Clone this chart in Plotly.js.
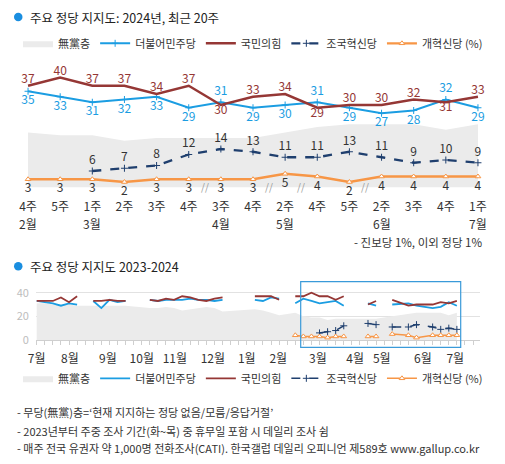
<!DOCTYPE html>
<html><head><meta charset="utf-8">
<script src="https://cdn.plot.ly/plotly-3.0.1.min.js"></script>
<style>html,body{margin:0;padding:0;background:#fff}#chart{width:505px;height:464px}</style>
</head><body><div id="chart"></div>
<script>
// ---------- DATA ----------
// week index: 0 = 2023년 7월 1주 ... 52 = 2024년 7월 1주; rows with all-null values break the lines
const weekIndex = [0,1,2,3,4,5,6,7,8,9,10,11,12,14,15,16,17,18,19,20,21,22,23,24,27,28,29,30,31,32,33,34,35,36,37,38,39,41,42,43,44,46,47,49,50,51,52];
const nonPartisan = [31,31,30,30,30,29,null,29,29,29,29,29,null,27,27,28,27,25,26,27,28,27,24,null,26,25,23,21,null,23,20,19,19,17,18,18,null,18,18,null,20,22,23,23,23,21,23];
const democratic  = [33,32,31,29,31,30,null,33,27,34,32,33,null,34,33,34,34,34,35,34,34,33,34,null,34,33,36,35,null,31,35,33,31,32,33,29,null,31,29,null,30,31,29,27,28,32,29];
const peoplePower = [33,33,33,36,32,37,null,33,33,34,33,33,null,34,33,35,34,37,36,34,33,35,36,null,37,37,37,34,null,37,37,40,37,37,34,37,null,30,33,null,34,29,30,30,32,31,33];
const rebuilding  = [null,null,null,null,null,null,null,null,null,null,null,null,null,null,null,null,null,null,null,null,null,null,null,null,null,null,null,null,null,null,null,null,6,7,8,12,null,14,13,null,11,11,13,11,9,10,9];
const reform      = [null,null,null,null,null,null,null,null,null,null,null,null,null,null,null,null,null,null,null,null,null,null,null,null,null,null,null,null,null,4,3,3,3,2,3,3,null,3,3,null,5,4,2,4,4,4,4];

const recentStartWeek = 33; // 2024년 2월 4주
const recentWeekLabels  = ['4주','5주','1주','2주','3주','4주','3주','4주','2주','4주','5주','2주','3주','4주','1주'];
const recentMonthLabels = ['2월','','3월','','','','4월','','5월','','','6월','','','7월'];

const monthTickPos  = [0,4.1,8.8,13,17.1,21.8,26,29.9,34.8,39.4,42.7,47.8,51.8];
const monthTickText = ['7월','8월','9월','10월','11월','12월','1월','2월','3월','4월','5월','6월','7월'];

const seriesNames = ['無黨층','더불어민주당','국민의힘','조국혁신당','개혁신당 (%)'];

// ---------- STYLE ----------
const C = {gray:'#ebebeb', blue:'#1b9de2', red:'#953735', navy:'#1f3f6e', orange:'#f79646', text:'#333333'};
const FONT = "'Noto Sans CJK KR','Noto Sans',sans-serif";

// ---------- derive recent 15 survey points ----------
const rIdx = [];
weekIndex.forEach((w,i)=>{ if (w >= recentStartWeek && peoplePower[i] !== null) rIdx.push(i); });
const pick = arr => rIdx.map(i => arr[i]);
const rWeeks = pick(weekIndex), rNon = pick(nonPartisan), rDem = pick(democratic),
      rPpp = pick(peoplePower), rReb = pick(rebuilding), rRef = pick(reform);
const rX = rWeeks.map((_,i)=>i);

const demPos = rDem.map((v,i)=> v > rPpp[i] ? 'top center' : 'bottom center');
const pppPos = rPpp.map((v,i)=> v < rDem[i] ? 'bottom center' : 'top center');

const traces = [
  {x:rX, y:rNon, name:seriesNames[0], mode:'lines', fill:'tozeroy', fillcolor:C.gray, line:{width:0,color:C.gray}, legend:'legend'},
  {x:rX, y:rDem, name:seriesNames[1], mode:'lines+markers+text', line:{color:C.blue,width:2},
   marker:{symbol:'cross-thin-open',size:5,line:{color:C.blue,width:1},color:C.blue},
   text:rDem.map(String), textposition:demPos, textfont:{size:12,color:C.blue,family:FONT}, cliponaxis:false, legend:'legend'},
  {x:rX, y:rPpp, name:seriesNames[2], mode:'lines+text', line:{color:C.red,width:2.5},
   text:rPpp.map(String), textposition:pppPos, textfont:{size:12,color:C.red,family:FONT}, cliponaxis:false, legend:'legend'},
  {x:rX, y:rReb, name:seriesNames[3], mode:'lines+markers+text', line:{color:C.navy,width:2.3,dash:'dash'},
   marker:{symbol:'cross-thin-open',size:5,line:{color:C.navy,width:1},color:C.navy},
   text:rReb.map(v=> v===null?'':String(v)), textposition:'top center', textfont:{size:12,color:C.text,family:FONT}, cliponaxis:false, legend:'legend'},
  {x:rX, y:rRef, name:seriesNames[4], mode:'lines+markers+text', line:{color:C.orange,width:2.3},
   marker:{symbol:'triangle-up',size:5,color:'#ffffff',line:{color:C.orange,width:1}},
   text:rRef.map(String), textposition:'bottom center', textfont:{size:12,color:C.text,family:FONT}, cliponaxis:false, legend:'legend'},

  {x:weekIndex, y:nonPartisan, name:seriesNames[0], mode:'lines', fill:'tozeroy', fillcolor:C.gray, line:{width:0,color:C.gray}, xaxis:'x2', yaxis:'y2', legend:'legend2'},
  {x:weekIndex, y:democratic, name:seriesNames[1], mode:'lines', line:{color:C.blue,width:1.8}, xaxis:'x2', yaxis:'y2', legend:'legend2'},
  {x:weekIndex, y:peoplePower, name:seriesNames[2], mode:'lines', line:{color:C.red,width:1.8}, xaxis:'x2', yaxis:'y2', legend:'legend2'},
  {x:weekIndex, y:rebuilding, name:seriesNames[3], mode:'lines+markers', line:{color:C.navy,width:1.5,dash:'dash'},
   marker:{symbol:'cross-thin-open',size:5,line:{color:C.navy,width:1}}, xaxis:'x2', yaxis:'y2', legend:'legend2'},
  {x:weekIndex, y:reform, name:seriesNames[4], mode:'lines+markers', line:{color:C.orange,width:1.5},
   marker:{symbol:'triangle-up',size:5,color:'#ffffff',line:{color:C.orange,width:1}}, xaxis:'x2', yaxis:'y2', legend:'legend2'}
];

const W = 505, H = 464;
const px = v => v / W, py = v => (H - v) / H;

const annotations = [];
// month labels (top chart)
recentMonthLabels.forEach((m,i)=>{ if (m) annotations.push({x:i, y:py(223.5), xref:'x', yref:'paper', text:m, showarrow:false, xanchor:'center', yanchor:'middle', font:{size:12,color:C.text,family:FONT}}); });
// "//" gap marks between non-consecutive survey weeks
for (let i=0;i<rWeeks.length-1;i++){
  if (rWeeks[i+1]-rWeeks[i] > 1) annotations.push({x:i+0.5, y:0, xref:'x', yref:'y', text:'//', showarrow:false, yanchor:'middle', yshift:1, font:{size:10,color:'#999',family:FONT}});
}
annotations.push(
  {x:px(28), y:py(17), xref:'paper', yref:'paper', xanchor:'left', yanchor:'middle', showarrow:false, text:'주요 정당 지지도: 2024년, 최근 20주', font:{size:12.5,color:'#222',family:FONT}},
  {x:px(28), y:py(266.3), xref:'paper', yref:'paper', xanchor:'left', yanchor:'middle', showarrow:false, text:'주요 정당 지지도 2023-2024', font:{size:12.5,color:'#222',family:FONT}},
  {x:px(484), y:py(241.7), xref:'paper', yref:'paper', xanchor:'right', yanchor:'middle', showarrow:false, text:'- 진보당 1%, 이외 정당 1%', font:{size:11.5,color:C.text,family:FONT}},
  {x:px(15), y:py(411.7), xref:'paper', yref:'paper', xanchor:'left', yanchor:'middle', showarrow:false, text:'- 무당(無黨)층=‘현재 지지하는 정당 없음/모름/응답거절’', font:{size:11,color:C.text,family:FONT}},
  {x:px(15), y:py(430.7), xref:'paper', yref:'paper', xanchor:'left', yanchor:'middle', showarrow:false, text:'- 2023년부터 주중 조사 기간(화~목) 중 휴무일 포함 시 데일리 조사 쉼', font:{size:11,color:C.text,family:FONT}},
  {x:px(15), y:py(448.3), xref:'paper', yref:'paper', xanchor:'left', yanchor:'middle', showarrow:false, text:'- 매주 전국 유권자 약 1,000명 전화조사(CATI). 한국갤럽 데일리 오피니언 제589호 www.gallup.co.kr', font:{size:11,color:C.text,family:FONT}}
);

const layout = {
  width:W, height:H, margin:{l:0,r:0,t:0,b:0}, paper_bgcolor:'#fff', plot_bgcolor:'rgba(0,0,0,0)',
  font:{family:FONT, color:C.text}, hovermode:false,
  xaxis:{domain:[px(18.4),px(487.6)], range:[-0.3,14.3], tickmode:'array', tickvals:rX, ticktext:recentWeekLabels,
         ticks:'', showgrid:false, zeroline:false, showline:false, ticklabelstandoff:10, tickfont:{size:12,color:C.text}, anchor:'y'},
  yaxis:{domain:[py(187.5),py(66.5)], range:[0,44], visible:false, anchor:'x'},
  xaxis2:{domain:[px(35.9),px(479.5)], range:[-0.1,54.8], tickmode:'array', tickvals:monthTickPos, ticktext:monthTickText,
          ticks:'', showgrid:false, zeroline:false, showline:true, linecolor:'#cfcfcf', linewidth:1, anchor:'y2',
          minor:{tickmode:'linear', tick0:0, dtick:1, ticks:'outside', ticklen:4, tickcolor:'#cfcfcf', showgrid:false},
          ticklabelstandoff:8, tickfont:{size:12,color:C.text}},
  yaxis2:{domain:[py(340),py(285.6)], range:[0,46], tickmode:'array', tickvals:[0,20,40], ticks:'', showgrid:true, gridcolor:'#e2e2e2',
          zeroline:false, showline:false, tickfont:{size:11,color:'#bdbdbd'}, ticklabelstandoff:6, anchor:'x2'},
  showlegend:true,
  legend:{orientation:'h', x:px(18), y:py(43.3), xanchor:'left', yanchor:'middle', font:{size:11,color:C.text,family:FONT}, itemwidth:30, traceorder:'normal', bgcolor:'rgba(0,0,0,0)'},
  legend2:{orientation:'h', x:px(18), y:py(378.3), xanchor:'left', yanchor:'middle', font:{size:11,color:C.text,family:FONT}, itemwidth:30, traceorder:'normal', bgcolor:'rgba(0,0,0,0)'},
  shapes:[
    {type:'circle', xref:'paper', yref:'paper', x0:px(14), x1:px(22.5), y0:py(21.3), y1:py(12.8), fillcolor:'#1a8ee0', line:{width:0}},
    {type:'circle', xref:'paper', yref:'paper', x0:px(14), x1:px(22.5), y0:py(270.6), y1:py(262.1), fillcolor:'#1a8ee0', line:{width:0}},
    {type:'rect', xref:'paper', yref:'paper', x0:px(300.7), x1:px(460.7), y0:py(347.3), y1:py(281.7), line:{color:'#3a9ad9',width:1.2}, fillcolor:'rgba(0,0,0,0)'}
  ],
  annotations
};

Plotly.newPlot('chart', traces, layout, {staticPlot:true, displayModeBar:false});
</script></body></html>
